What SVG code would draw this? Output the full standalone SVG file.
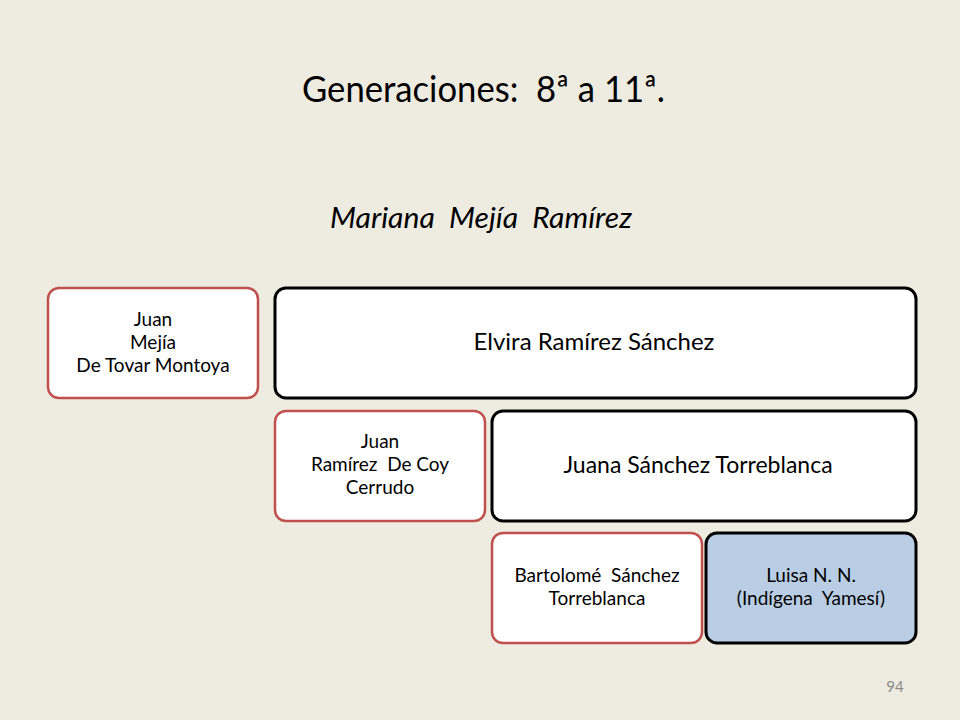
<svg xmlns="http://www.w3.org/2000/svg" width="960" height="720" viewBox="0 0 960 720">
<style>
.t{font-family:Lato,"Open Sans","Liberation Sans",sans-serif;fill:#000;text-anchor:middle}
.red{fill:#fff;stroke:#C0504D;stroke-width:2.5}
.blk{fill:#fff;stroke:#000;stroke-width:3}
.blue{fill:#B9CDE5;stroke:#000;stroke-width:3}
.s{font-size:19px}
</style>
<rect width="960" height="720" fill="#EEEBE0"/>
<text class="t" x="483.5" y="102" font-size="37" textLength="363" lengthAdjust="spacingAndGlyphs">Generaciones:&#160; 8ª a 11ª.</text>
<text class="t" x="481" y="228" font-size="29" font-style="italic" textLength="302" lengthAdjust="spacingAndGlyphs">Mariana&#160; Mejía&#160; Ramírez</text>
<g id="n-juan-mejia">
<rect class="red" x="48" y="288" width="210" height="110" rx="11"/>
<text class="t s" x="153" y="326">Juan</text>
<text class="t s" x="153" y="349">Mejía</text>
<text class="t s" x="153" y="372">De Tovar Montoya</text>
</g>
<g id="n-elvira">
<rect class="blk" x="275" y="288" width="641" height="110" rx="11"/>
<text class="t" x="594" y="350" font-size="24">Elvira Ramírez Sánchez</text>
</g>
<g id="n-juan-ramirez">
<rect class="red" x="275" y="411" width="210" height="110" rx="11"/>
<text class="t s" x="380" y="448">Juan</text>
<text class="t s" x="380" y="471">Ramírez&#160; De Coy</text>
<text class="t s" x="380" y="494">Cerrudo</text>
</g>
<g id="n-juana">
<rect class="blk" x="492" y="411" width="424" height="110" rx="11"/>
<text class="t" x="698" y="473" font-size="23">Juana Sánchez Torreblanca</text>
</g>
<g id="n-bartolome">
<rect class="red" x="492" y="533" width="210" height="110" rx="11"/>
<text class="t s" x="597" y="582">Bartolomé&#160; Sánchez</text>
<text class="t s" x="597" y="605">Torreblanca</text>
</g>
<g id="n-luisa">
<rect class="blue" x="706" y="533" width="210" height="110" rx="11"/>
<text class="t s" x="811" y="582">Luisa N. N.</text>
<text class="t s" x="811" y="605">(Indígena&#160; Yamesí)</text>
</g>
<g id="connectors"></g>
<text x="895" y="692" font-family="Lato,'Open Sans',sans-serif" font-size="15" fill="#8C8C8C" text-anchor="middle">94</text>
</svg>
